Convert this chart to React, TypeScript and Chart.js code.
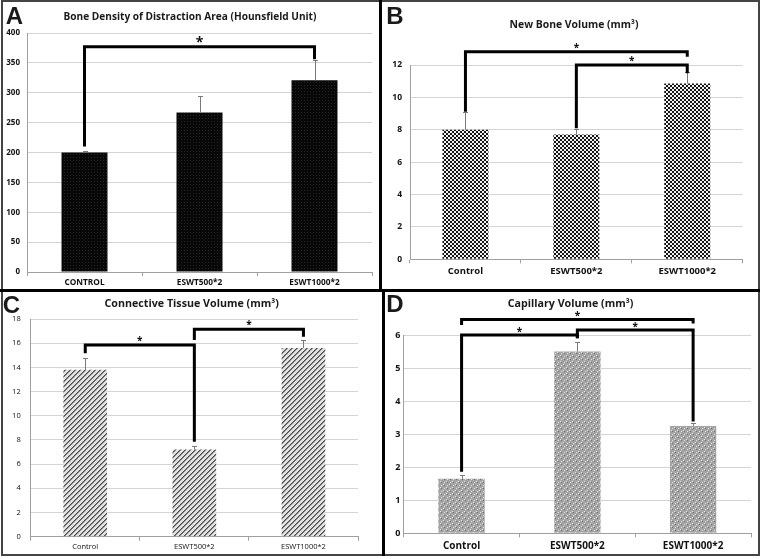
import React, { useEffect, useRef } from "react";
import { Chart, registerables } from "chart.js";

Chart.register(...registerables);

// ---------- data ----------
const categoriesUpper = ["CONTROL", "ESWT500*2", "ESWT1000*2"];
const categories = ["Control", "ESWT500*2", "ESWT1000*2"];

const boneDensity = [200, 267, 321];
const boneDensityErr = [3, 28, 34];
const boneDensityTicks = { max: 400, step: 50 };

const newBone = [8.0, 7.7, 10.85];
const newBoneErr = [1.1, 0.35, 0.7];
const newBoneTicks = { max: 12, step: 2 };

const connective = [13.8, 7.2, 15.6];
const connectiveErr = [1.0, 0.3, 0.65];
const connectiveTicks = { max: 18, step: 2 };

const capillary = [1.65, 5.5, 3.25];
const capillaryErr = [0.12, 0.3, 0.1];
const capillaryTicks = { max: 6, step: 1 };

// significance brackets: [fromIndex, toIndex, startLegValue, topValue, endLegValue]
const bracketsA = [[0, 2, 210, 377, 356]];
const bracketsB = [
  [0, 2, 9.12, 12.82, 12.51],
  [1, 2, 8.09, 12.0, 11.49],
];
const bracketsC = [
  [0, 1, 15.16, 15.85, 7.85],
  [1, 2, 16.26, 17.15, 16.54],
];
const bracketsD = [
  [0, 2, 6.3, 6.47, 6.35],
  [0, 1, 1.86, 6.0, 5.9],
  [1, 2, 5.9, 6.15, 3.38],
];

const FONT = "'Open Sans', sans-serif";

function makePattern(kind: string): CanvasPattern | string {
  const c = document.createElement("canvas");
  const ctx = c.getContext("2d");
  if (!ctx) return "#888";
  if (kind === "solid") {
    c.width = 3; c.height = 3;
    ctx.fillStyle = "#080808"; ctx.fillRect(0, 0, 3, 3);
    ctx.fillStyle = "#262626"; ctx.fillRect(1, 1, 1, 1);
  } else if (kind === "checker") {
    c.width = 4; c.height = 4;
    ctx.fillStyle = "#f2f2f2"; ctx.fillRect(0, 0, 4, 4);
    ctx.fillStyle = "#151515"; ctx.fillRect(0, 0, 2, 2); ctx.fillRect(2, 2, 2, 2);
  } else if (kind === "hatch") {
    c.width = 5; c.height = 5;
    ctx.fillStyle = "#e2e2e2"; ctx.fillRect(0, 0, 5, 5);
    ctx.fillStyle = "#4a4a4a";
    for (let i = 0; i < 5; i++) { ctx.fillRect(4 - i, i, 1, 1); }
    ctx.fillStyle = "#8a8a8a";
    for (let i = 0; i < 5; i++) { ctx.fillRect((5 - i) % 5, i, 1, 1); }
  } else {
    c.width = 6; c.height = 6;
    ctx.fillStyle = "#a4a4a4"; ctx.fillRect(0, 0, 6, 6);
    ctx.fillStyle = "#e6e6e6";
    ctx.fillRect(1, 1, 1, 1); ctx.fillRect(4, 4, 1, 1);
    ctx.fillRect(0, 3, 1, 1); ctx.fillRect(3, 0, 1, 1);
    ctx.fillStyle = "#6c6c6c";
    ctx.fillRect(4, 1, 1, 1); ctx.fillRect(1, 4, 1, 1);
  }
  return ctx.createPattern(c, "repeat") || "#888";
}

type PanelProps = {
  box: { left: number; top: number; width: number; height: number };
  labels: string[];
  values: number[];
  errors: number[];
  brackets: number[][];
  ticks: { max: number; step: number };
  pattern: string;
  yWidth: number;
  xHeight: number;
  pad: { top: number; right: number };
  yPad: number;
  xPad: number;
  tickFont: { size: number; weight: string };
  xFont: { size: number; weight: string };
  barPct: number;
  starSize: number;
  starOffset: number;
};

function Panel(p: PanelProps) {
  const ref = useRef<HTMLCanvasElement>(null);
  useEffect(() => {
    if (!ref.current) return;
    const overlay = {
      id: "overlay",
      afterDatasetsDraw(chart: any) {
        const ctx = chart.ctx;
        const xs = chart.scales.x;
        const ys = chart.scales.y;
        const meta = chart.getDatasetMeta(0);
        ctx.save();
        ctx.strokeStyle = "#7a7a7a";
        ctx.lineWidth = 1;
        p.errors.forEach((e, i) => {
          const bx = Math.round(meta.data[i].x) + 0.5;
          const y0 = ys.getPixelForValue(p.values[i]);
          const y1 = Math.round(ys.getPixelForValue(p.values[i] + e)) + 0.5;
          ctx.beginPath();
          ctx.moveTo(bx, y0);
          ctx.lineTo(bx, y1);
          ctx.moveTo(bx - 2.5, y1);
          ctx.lineTo(bx + 2.5, y1);
          ctx.stroke();
        });
        ctx.strokeStyle = "#000";
        ctx.lineWidth = 3;
        ctx.lineJoin = "miter";
        ctx.lineCap = "butt";
        p.brackets.forEach((b) => {
          const x1 = xs.getPixelForValue(b[0]);
          const x2 = xs.getPixelForValue(b[1]);
          const ya = ys.getPixelForValue(b[2]);
          const yt = ys.getPixelForValue(b[3]);
          const yb = ys.getPixelForValue(b[4]);
          ctx.beginPath();
          ctx.moveTo(x1, ya);
          ctx.lineTo(x1, yt);
          ctx.lineTo(x2, yt);
          ctx.lineTo(x2, yb);
          ctx.stroke();
          ctx.fillStyle = "#111";
          ctx.font = `bold ${p.starSize}px ${FONT}`;
          ctx.textAlign = "center";
          ctx.textBaseline = "middle";
          ctx.fillText("*", (x1 + x2) / 2, yt - p.starOffset);
        });
        ctx.restore();
      },
    };
    const chart = new Chart(ref.current, {
      type: "bar",
      data: {
        labels: p.labels,
        datasets: [
          {
            data: p.values,
            backgroundColor: makePattern(p.pattern) as any,
            borderWidth: 0,
            barPercentage: p.barPct,
            categoryPercentage: 1,
          },
        ],
      },
      options: {
        animation: false,
        responsive: false,
        devicePixelRatio: 1,
        layout: { padding: { top: p.pad.top, right: p.pad.right, left: 0, bottom: 0 } },
        plugins: { legend: { display: false }, tooltip: { enabled: false }, title: { display: false } },
        scales: {
          x: {
            afterFit: (s: any) => { s.height = p.xHeight; },
            grid: { display: true, drawOnChartArea: false, drawTicks: true, tickLength: 4, color: "#a0a0a0", offset: true },
            border: { display: true, color: "#a0a0a0" },
            ticks: {
              color: "#111",
              padding: p.xPad,
              maxRotation: 0,
              font: { family: FONT, size: p.xFont.size, weight: p.xFont.weight as any },
            },
          },
          y: {
            min: 0,
            max: p.ticks.max,
            afterFit: (s: any) => { s.width = p.yWidth; },
            grid: { color: "#d4d4d4", drawTicks: false },
            border: { display: true, color: "#a0a0a0" },
            ticks: {
              stepSize: p.ticks.step,
              color: "#111",
              padding: p.yPad,
              font: { family: FONT, size: p.tickFont.size, weight: p.tickFont.weight as any },
            },
          },
        },
      },
      plugins: [overlay],
    });
    return () => chart.destroy();
  }, []);
  return (
    <canvas
      ref={ref}
      width={p.box.width}
      height={p.box.height}
      style={{ position: "absolute", left: p.box.left, top: p.box.top, width: p.box.width, height: p.box.height }}
    />
  );
}

function Txt(props: { x: number; y: number; size: number; text: string; weight?: number; family?: string }) {
  return (
    <div
      style={{
        position: "absolute",
        left: props.x,
        top: props.y,
        transform: "translate(-50%, -50%)",
        whiteSpace: "nowrap",
        fontFamily: props.family || FONT,
        fontSize: props.size,
        fontWeight: props.weight ?? 700,
        color: "#1a1a1a",
        lineHeight: 1,
      }}
    >
      {props.text}
    </div>
  );
}

export default function App() {
  const LETTER = "'Liberation Sans', Arial, sans-serif";
  return (
    <div style={{ position: "absolute", left: 0, top: 0, width: 762, height: 559, background: "#fff", overflow: "hidden" }}>
      <Panel
        box={{ left: 3, top: 3, width: 376, height: 285 }}
        labels={categoriesUpper}
        values={boneDensity}
        errors={boneDensityErr}
        brackets={bracketsA}
        ticks={boneDensityTicks}
        pattern="solid"
        yWidth={24}
        xHeight={16}
        pad={{ top: 30, right: 7 }}
        yPad={7}
        xPad={2}
        tickFont={{ size: 8, weight: "bold" }}
        xFont={{ size: 8.3, weight: "bold" }}
        barPct={0.4}
        starSize={14}
        starOffset={4}
      />
      <Panel
        box={{ left: 384, top: 3, width: 374, height: 285 }}
        labels={categories}
        values={newBone}
        errors={newBoneErr}
        brackets={bracketsB}
        ticks={newBoneTicks}
        pattern="checker"
        yWidth={26}
        xHeight={28.7}
        pad={{ top: 62, right: 15.3 }}
        yPad={8}
        xPad={2}
        tickFont={{ size: 8.5, weight: "bold" }}
        xFont={{ size: 9.5, weight: "bold" }}
        barPct={0.415}
        starSize={10}
        starOffset={4}
      />
      <Panel
        box={{ left: 3, top: 292, width: 376, height: 262 }}
        labels={categories}
        values={connective}
        errors={connectiveErr}
        brackets={bracketsC}
        ticks={connectiveTicks}
        pattern="hatch"
        yWidth={27.7}
        xHeight={17.3}
        pad={{ top: 27, right: 21 }}
        yPad={10}
        xPad={2}
        tickFont={{ size: 7.5, weight: "normal" }}
        xFont={{ size: 7.5, weight: "normal" }}
        barPct={0.4}
        starSize={10}
        starOffset={4}
      />
      <Panel
        box={{ left: 386, top: 292, width: 372, height: 262 }}
        labels={categories}
        values={capillary}
        errors={capillaryErr}
        brackets={bracketsD}
        ticks={capillaryTicks}
        pattern="dots"
        yWidth={17.7}
        xHeight={20.7}
        pad={{ top: 43, right: 7 }}
        yPad={3.4}
        xPad={3}
        tickFont={{ size: 9, weight: "bold" }}
        xFont={{ size: 10, weight: "bold" }}
        barPct={0.4}
        starSize={10}
        starOffset={3}
      />

      {/* frame */}
      <div style={{ position: "absolute", left: 1, top: 0, width: 759, height: 556, border: "2px solid #444", boxSizing: "border-box" }} />
      <div style={{ position: "absolute", left: 0, top: 289, width: 760, height: 3, background: "#000" }} />
      <div style={{ position: "absolute", left: 379, top: 0, width: 3, height: 290, background: "#000" }} />
      <div style={{ position: "absolute", left: 382, top: 290, width: 3, height: 266, background: "#000" }} />

      {/* titles and letters */}
      <Txt x={14.5} y={16} size={24} text="A" family={LETTER} weight={900} />
      <Txt x={190} y={15.7} size={10.1} text="Bone Density of Distraction Area (Hounsfield Unit)" />
      <Txt x={395} y={15.5} size={24} text="B" family={LETTER} weight={900} />
      <Txt x={574} y={24.3} size={10.4} text="New Bone Volume (mm³)" />
      <Txt x={11.5} y={304.5} size={24} text="C" family={LETTER} weight={900} />
      <Txt x={191.7} y={303.3} size={10.7} text="Connective Tissue Volume (mm³)" />
      <Txt x={395} y={304} size={24} text="D" family={LETTER} weight={900} />
      <Txt x={570.5} y={303} size={10.7} text="Capillary Volume (mm³)" />
    </div>
  );
}
